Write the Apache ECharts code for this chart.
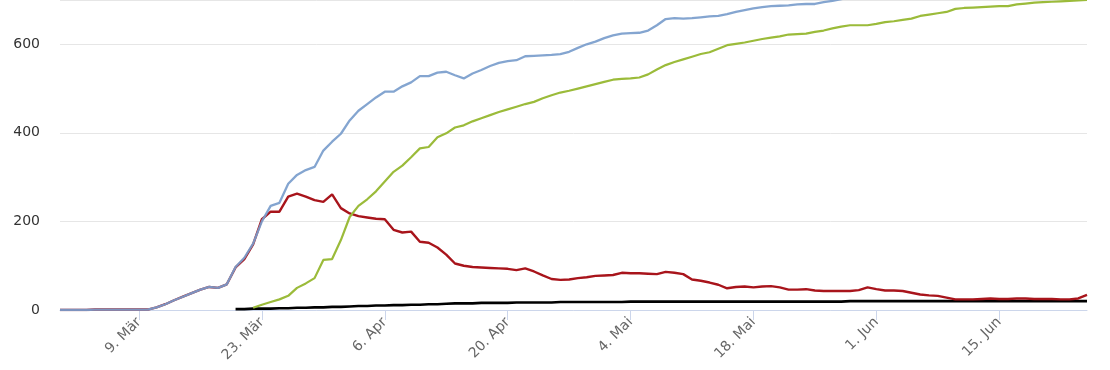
<!DOCTYPE html>
<html>
<head>
<meta charset="utf-8">
<script src="https://cdn.jsdelivr.net/npm/echarts@6/dist/echarts.min.js"></script>
<style>
html,body{margin:0;padding:0;background:#fff;}
#chart{width:1110px;height:370px;}
</style>
</head>
<body>
<div id="chart"></div>
<script>
// Categories: one per day, 29. Feb 2020 .. 25. Jun 2020
const monthNames = ['Jan','Feb','Mär','Apr','Mai','Jun','Jul'];
const startDate = [2020, 1, 29]; // year, month index, day
const dayCount = 118;
const categories = [];
for (let k = 0; k < dayCount; k++) {
  const d = new Date(Date.UTC(startDate[0], startDate[1], startDate[2] + k));
  categories.push(d.getUTCDate() + '. ' + monthNames[d.getUTCMonth()]);
}
const tickLabels = ['9. Mär','23. Mär','6. Apr','20. Apr','4. Mai','18. Mai','1. Jun','15. Jun'];

const totalCases = [
  0,0,0,0,1,1,1,1,1,1,
  1,6,13,22,30,38,46,52,50,58,
  97,118,150,200,235,242,285,305,316,323,
  360,380,398,428,450,465,480,493,493,505,
  514,528,528,536,538,530,523,534,542,551,
  558,562,564,573,574,575,576,578,583,592,
  600,606,614,620,624,625,626,631,643,657,
  659,658,659,661,663,664,668,673,677,681,
  684,686,687,688,690,691,691,695,698,702,
  706,709,712,715,718,721,724,727,733,736,
  739,742,748,750,751,753,754,755,756,760,
  762,764,765,766,767,768,770,780
];
const activeCases = [
  0,0,0,0,1,1,1,1,1,1,
  1,6,13,22,30,38,46,52,50,58,
  96,115,148,205,222,222,256,263,256,248,
  244,261,230,218,212,209,206,205,181,175,
  177,154,152,141,125,105,100,97,96,95,
  94,93,90,94,87,78,70,68,69,72,
  74,77,78,79,84,83,83,82,81,86,
  84,81,69,66,62,57,49,52,53,51,
  53,54,51,46,46,47,44,43,43,43,
  43,45,51,47,44,44,43,39,35,33,
  32,28,24,24,24,25,26,25,25,26,
  26,25,25,25,24,24,26,34
];
const recovered = [
  null,null,null,null,null,null,null,null,null,null,
  null,null,null,null,null,null,null,null,null,null,
  null,null,5,12,18,24,32,50,60,72,
  113,115,158,210,235,250,268,290,312,326,
  345,365,368,390,399,412,417,426,433,440,
  447,453,459,465,470,478,485,491,495,500,
  505,510,515,520,522,523,525,532,543,553,
  560,566,572,578,582,590,598,601,604,608,
  612,615,618,622,623,624,628,631,636,640,
  643,643,643,646,650,652,655,658,664,667,
  670,673,680,682,683,684,685,686,686,690,
  692,694,695,696,697,698,699,700
];
const deaths = [
  null,null,null,null,null,null,null,null,null,null,
  null,null,null,null,null,null,null,null,null,null,
  2,2,3,3,3,4,4,5,5,6,
  6,7,7,8,9,9,10,10,11,11,
  12,12,13,13,14,15,15,15,16,16,
  16,16,17,17,17,17,17,18,18,18,
  18,18,18,18,18,19,19,19,19,19,
  19,19,19,19,19,19,19,19,19,19,
  19,19,19,19,19,19,19,19,19,19,
  20,20,20,20,20,20,20,20,20,20,
  20,20,20,20,20,20,20,20,20,20,
  20,20,20,20,20,20,20,20
];

const firstTick = 9, tickStep = 14;
const showTick = (idx) => idx >= firstTick && (idx - firstTick) % tickStep === 0;

const chart = echarts.init(document.getElementById('chart'), null, {renderer: 'canvas'});
chart.setOption({
  animation: false,
  backgroundColor: '#ffffff',
  grid: {left: 60, right: 23, top: -2, bottom: 60, containLabel: false},
  xAxis: {
    type: 'category',
    data: categories,
    boundaryGap: false,
    axisLine: {show: true, lineStyle: {color: '#ccd6eb', width: 1}},
    axisTick: {show: true, interval: (i) => showTick(i), length: 10, lineStyle: {color: '#ccd6eb'}},
    axisLabel: {
      interval: (i) => showTick(i),
      rotate: 45,
      margin: 10,
      color: '#666666',
      fontSize: 14,
      fontFamily: 'DejaVu Sans'
    },
    splitLine: {show: false}
  },
  yAxis: {
    type: 'value',
    min: 0,
    max: 700,
    interval: 200,
    axisLine: {show: false},
    axisTick: {show: false},
    axisLabel: {color: '#333333', fontSize: 14, fontFamily: 'DejaVu Sans', margin: 20, showMaxLabel: false},
    splitLine: {show: true, lineStyle: {color: '#e6e6e6', width: 1}}
  },
  series: [
    {name: 'Verstorben', type: 'line', data: deaths, showSymbol: false, clip: true, z: 2,
     lineStyle: {color: '#000000', width: 2.6}, itemStyle: {color: '#000000'}},
    {name: 'Aktive Fälle', type: 'line', data: activeCases, showSymbol: false, clip: true, z: 3,
     lineStyle: {color: '#a8141b', width: 2.4}, itemStyle: {color: '#a8141b'}},
    {name: 'Genesen', type: 'line', data: recovered, showSymbol: false, clip: true, z: 4,
     lineStyle: {color: '#9bbb3a', width: 2.2}, itemStyle: {color: '#9bbb3a'}},
    {name: 'Fälle gesamt', type: 'line', data: totalCases, showSymbol: false, clip: true, z: 5,
     lineStyle: {color: '#7a9dcc', width: 2.3, opacity: 0.92}, itemStyle: {color: '#7a9dcc'}}
  ]
});
</script>
</body>
</html>
